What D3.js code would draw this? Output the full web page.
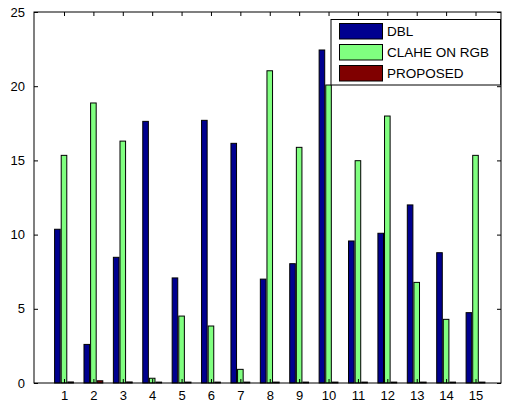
<!DOCTYPE html>
<html><head><meta charset="utf-8">
<script src="https://cdn.jsdelivr.net/npm/d3@7"></script>
<style>body{margin:0;background:#fff}svg{display:block}text{font-family:"Liberation Sans",Arial,sans-serif}</style>
</head><body>
<script>
const categories = [1,2,3,4,5,6,7,8,9,10,11,12,13,14,15];
const seriesNames = ["DBL","CLAHE ON RGB","PROPOSED"];
const dbl = [10.36,2.6,8.47,17.63,7.08,17.7,16.15,7.0,8.04,22.44,9.57,10.09,12.0,8.78,4.74];
const clahe = [15.34,18.87,16.3,0.32,4.51,3.84,0.92,21.04,15.88,20.08,14.98,17.99,6.78,4.29,15.34];
const proposed = [0.07,0.15,0.07,0.06,0.06,0.06,0.06,0.06,0.06,0.06,0.06,0.06,0.06,0.06,0.06];
const yTicks = [0,5,10,15,20,25];
const colors = ["#00008F","#80FF80","#800000"];

const W=507,H=403;
const L=34,R=501,T=12,B=383;
const svg=d3.select("body").append("svg").attr("width",W).attr("height",H);
const x=d3.scaleLinear().domain([1,15]).range([64,475.5]);
const y=d3.scaleLinear().domain([0,25]).range([B,T]);
const unit=x(2)-x(1);
const offsets=[-0.225,0,0.225];
const bw=0.19*unit;
const series=[dbl,clahe,proposed];

series.forEach((vals,si)=>{
  svg.append("g").selectAll("rect").data(vals).join("rect")
    .attr("x",(d,i)=>x(categories[i]+offsets[si])-bw/2)
    .attr("y",d=>y(d))
    .attr("width",bw)
    .attr("height",d=>y(0)-y(d))
    .attr("fill",colors[si])
    .attr("stroke","#000").attr("stroke-width",1);
});

// axes box
svg.append("rect").attr("x",L).attr("y",T).attr("width",R-L).attr("height",B-T)
  .attr("fill","none").attr("stroke","#000").attr("stroke-width",1);

// y axis left
const yAxL=d3.axisLeft(y).tickValues(yTicks).tickSizeInner(-4).tickSizeOuter(0).tickPadding(9);
const gy=svg.append("g").attr("transform",`translate(${L},0)`).call(yAxL);
gy.select(".domain").remove();
gy.selectAll("text").attr("font-size",13).attr("fill","#000").style("font-family","'Liberation Sans',Arial,sans-serif");
// y axis right ticks
const gyr=svg.append("g").attr("transform",`translate(${R},0)`).call(d3.axisRight(y).tickValues(yTicks).tickSizeInner(-4).tickSizeOuter(0).tickFormat(""));
gyr.select(".domain").remove();
// x axis bottom
const gx=svg.append("g").attr("transform",`translate(0,${B})`).call(d3.axisBottom(x).tickValues(categories).tickSizeInner(-4).tickSizeOuter(0).tickPadding(8).tickFormat(d3.format("d")));
gx.select(".domain").remove();
gx.selectAll("text").attr("font-size",13).attr("fill","#000").style("font-family","'Liberation Sans',Arial,sans-serif");
// x axis top ticks
const gxt=svg.append("g").attr("transform",`translate(0,${T})`).call(d3.axisTop(x).tickValues(categories).tickSizeInner(-4).tickSizeOuter(0).tickFormat(""));
gxt.select(".domain").remove();

// legend
const lg=svg.append("g");
lg.append("rect").attr("x",331).attr("y",19.5).attr("width",169.5).attr("height",65.5)
  .attr("fill","#fff").attr("stroke","#000").attr("stroke-width",1);
seriesNames.forEach((n,i)=>{
  const yy=23.5+i*21;
  lg.append("rect").attr("x",339.5).attr("y",yy).attr("width",43).attr("height",15.5)
    .attr("fill",colors[i]).attr("stroke","#000").attr("stroke-width",1);
  lg.append("text").attr("x",387).attr("y",yy+8).attr("dy","0.35em")
    .attr("font-size",13.5).attr("fill","#000").text(n);
});
</script>
</body></html>
